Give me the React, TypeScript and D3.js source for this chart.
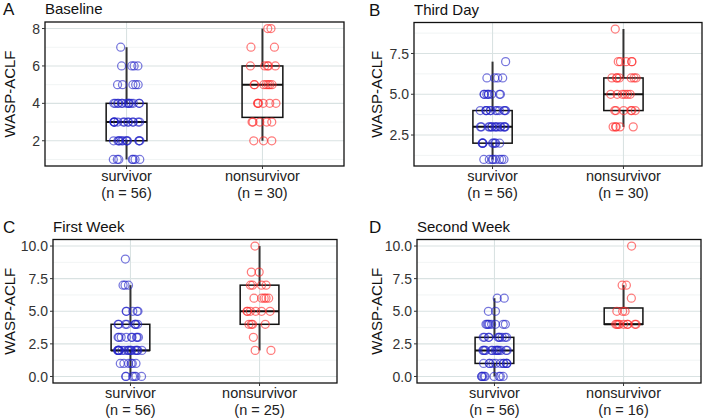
import React from "react";
import * as d3 from "d3";

// ---------- data ----------
const categories = ["survivor", "nonsurvivor"];
const panelTags = ["A", "B", "C", "D"];
const panelTitles = ["Baseline", "Third Day", "First Week", "Second Week"];
const groupSizes = [
  [56, 30],
  [56, 30],
  [56, 25],
  [56, 16],
];

// [WASP-ACLF score, number of patients at that score]
const baselineSurvivor = [[1, 7], [2, 12], [3, 13], [4, 14], [5, 5], [6, 4], [7, 1]];
const baselineNonsurvivor = [[2, 3], [3, 5], [4, 6], [5, 7], [6, 5], [7, 2], [8, 2]];
const thirdDaySurvivor = [[1, 8], [2, 9], [3, 14], [4, 12], [5, 8], [6, 4], [7, 1]];
const thirdDayNonsurvivor = [[3, 5], [4, 6], [5, 6], [6, 7], [7, 5], [9, 1]];
const firstWeekSurvivor = [[0, 6], [1, 6], [2, 18], [3, 9], [4, 8], [5, 5], [7, 3], [9, 1]];
const firstWeekNonsurvivor = [[2, 2], [3, 1], [4, 4], [5, 6], [6, 5], [7, 4], [8, 2], [10, 1]];
const secondWeekSurvivor = [[0, 9], [1, 11], [2, 14], [3, 10], [4, 8], [5, 2], [6, 2]];
const secondWeekNonsurvivor = [[4, 9], [5, 3], [6, 1], [7, 2], [10, 1]];

const yTicksA = [2, 4, 6, 8];
const yTicksB = [2.5, 5, 7.5];
const yTicksCD = [0, 2.5, 5, 7.5, 10];

// ---------- layout ----------
const W = 708;
const H = 420;
const FONT = "'Liberation Sans', Arial, Helvetica, sans-serif";
const panelBoxes = [
  { x0: 45, x1: 344, y0: 22, y1: 166, tagX: 3 },
  { x0: 414, x1: 702, y0: 22.5, y1: 166, tagX: 369 },
  { x0: 53, x1: 337, y0: 239.5, y1: 383, tagX: 3 },
  { x0: 417, x1: 701, y0: 239.5, y1: 383, tagX: 369 },
];
const yTitleX = [10, 377, 10, 377];
const COLORS = ["#2323c8", "#ff2a2a"];

const expand = (pairs: number[][]) =>
  pairs.flatMap(([v, c]) => Array.from({ length: c }, () => v));

const groups = [
  [baselineSurvivor, baselineNonsurvivor],
  [thirdDaySurvivor, thirdDayNonsurvivor],
  [firstWeekSurvivor, firstWeekNonsurvivor],
  [secondWeekSurvivor, secondWeekNonsurvivor],
].map((g) => g.map(expand));
const yTicks = [yTicksA, yTicksB, yTicksCD, yTicksCD];
const tickFmt = [d3.format("d"), d3.format(".1f"), d3.format(".1f"), d3.format(".1f")];

function boxStats(vals: number[]) {
  const s = [...vals].sort((a, b) => a - b);
  const q1 = d3.quantile(s, 0.25)!;
  const med = d3.quantile(s, 0.5)!;
  const q3 = d3.quantile(s, 0.75)!;
  const iqr = q3 - q1;
  const lo = d3.min(s.filter((v) => v >= q1 - 1.5 * iqr))!;
  const hi = d3.max(s.filter((v) => v <= q3 + 1.5 * iqr))!;
  return { q1, med, q3, lo, hi };
}

function Panel({ i }: { i: number }) {
  const b = panelBoxes[i];
  const data = groups[i];
  const all = data.flat();
  const [mn, mx] = d3.extent(all) as [number, number];
  const pad = (mx - mn) * 0.05;
  const y = d3.scaleLinear().domain([mn - pad, mx + pad]).range([b.y1, b.y0]);
  const x = d3.scaleLinear().domain([0.4, 2.6]).range([b.x0, b.x1]);
  const ticks = yTicks[i];
  const step = ticks[1] - ticks[0];
  const minor: number[] = [];
  for (let t = ticks[0] - step / 2; t <= mx + pad; t += step) {
    if (t >= mn - pad) minor.push(t);
  }
  const rng = d3.randomLcg(0.137 + i * 0.211);
  const jitterW = 0.1;
  const boxW = 0.15;

  return (
    <g>
      {/* grid */}
      {minor.map((t) => (
        <line key={"mi" + t} x1={b.x0} x2={b.x1} y1={y(t)} y2={y(t)} stroke="#edf1f1" strokeWidth={0.8} />
      ))}
      {ticks.map((t) => (
        <line key={"ma" + t} x1={b.x0} x2={b.x1} y1={y(t)} y2={y(t)} stroke="#d9e2e2" strokeWidth={1.1} />
      ))}
      {categories.map((c, k) => (
        <line key={"vg" + c} x1={x(k + 1)} x2={x(k + 1)} y1={b.y0} y2={b.y1} stroke="#d9e2e2" strokeWidth={1.1} />
      ))}
      {/* boxes */}
      {data.map((vals, k) => {
        const s = boxStats(vals);
        const cx = x(k + 1);
        const xl = x(k + 1 - boxW);
        const xr = x(k + 1 + boxW);
        return (
          <g key={"box" + k}>
            <line x1={cx} x2={cx} y1={y(s.q3)} y2={y(s.hi)} stroke="#333" strokeWidth={2} />
            <line x1={cx} x2={cx} y1={y(s.q1)} y2={y(s.lo)} stroke="#333" strokeWidth={2} />
            <rect x={xl} y={y(s.q3)} width={xr - xl} height={y(s.q1) - y(s.q3)} fill="none" stroke="#111" strokeWidth={1.5} />
            <line x1={xl} x2={xr} y1={y(s.med)} y2={y(s.med)} stroke="#111" strokeWidth={2} />
          </g>
        );
      })}
      {/* jittered points */}
      {data.map((vals, k) =>
        vals.map((v, j) => {
          const off = (rng() * 2 - 1) * jitterW;
          return (
            <circle
              key={"p" + k + "-" + j}
              cx={x(k + 1 + off)}
              cy={y(v)}
              r={4}
              fill="none"
              stroke={COLORS[k]}
              strokeOpacity={0.62}
              strokeWidth={1.25}
            />
          );
        })
      )}
      {/* border */}
      <rect x={b.x0} y={b.y0} width={b.x1 - b.x0} height={b.y1 - b.y0} fill="none" stroke="#111" strokeWidth={1.3} />
      {/* y axis */}
      {ticks.map((t) => (
        <g key={"yt" + t}>
          <line x1={b.x0 - 3} x2={b.x0} y1={y(t)} y2={y(t)} stroke="#333" strokeWidth={1} />
          <text x={b.x0 - 5} y={y(t)} dy="0.36em" textAnchor="end" fontSize={14} fill="#333" fontFamily={FONT}>
            {tickFmt[i](t)}
          </text>
        </g>
      ))}
      {/* x axis */}
      {categories.map((c, k) => (
        <g key={"xt" + c}>
          <line x1={x(k + 1)} x2={x(k + 1)} y1={b.y1} y2={b.y1 + 3} stroke="#333" strokeWidth={1} />
          <text x={x(k + 1)} y={b.y1 + 15} textAnchor="middle" fontSize={14.5} fill="#222" fontFamily={FONT}>
            {c}
          </text>
          <text x={x(k + 1)} y={b.y1 + 31.5} textAnchor="middle" fontSize={14.5} fill="#222" fontFamily={FONT}>
            {`(n = ${groupSizes[i][k]})`}
          </text>
        </g>
      ))}
      {/* titles */}
      <text
        transform={`translate(${yTitleX[i]},${(b.y0 + b.y1) / 2}) rotate(-90)`}
        dy="0.36em"
        textAnchor="middle"
        fontSize={15}
        fill="#111"
        fontFamily={FONT}
      >
        WASP-ACLF
      </text>
      <text x={b.tagX} y={b.y0 - 7} fontSize={17} fill="#111" fontFamily={FONT}>
        {panelTags[i]}
      </text>
      <text x={b.x0} y={b.y0 - 8} fontSize={15} fill="#111" fontFamily={FONT}>
        {panelTitles[i]}
      </text>
    </g>
  );
}

export default function App() {
  return (
    <div style={{ position: "absolute", left: 0, top: 0 }}>
      <svg width={W} height={H} style={{ display: "block", background: "#fff" }}>
        {panelTags.map((_, i) => (
          <Panel key={i} i={i} />
        ))}
      </svg>
    </div>
  );
}
